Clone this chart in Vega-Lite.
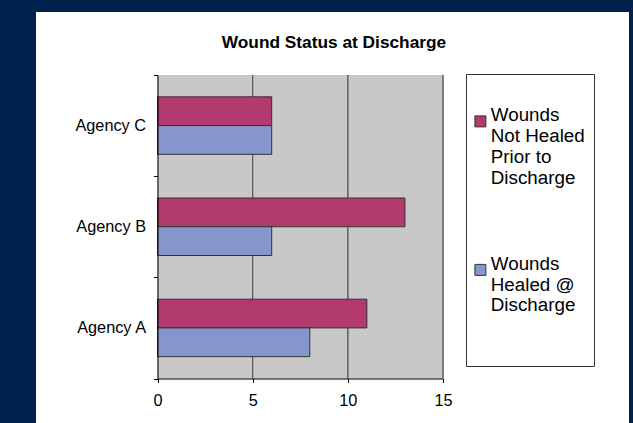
{
  "$schema": "https://vega.github.io/schema/vega-lite/v6.json",
  "width": 593,
  "height": 411,
  "autosize": {"type": "none"},
  "padding": {"left": 36, "top": 12, "right": 4, "bottom": 0},
  "background": "#01214f",
  "config": {
    "view": {"fill": "#ffffff", "stroke": null},
    "font": "Liberation Sans"
  },
  "title": {
    "text": "Wound Status at Discharge",
    "anchor": "middle",
    "frame": "group",
    "font": "Liberation Sans",
    "fontSize": 17.3,
    "fontWeight": "bold",
    "color": "#000000",
    "baseline": "alphabetic",
    "offset": -34.7,
    "dy": 27,
    "dx": 1.5
  },
  "data": {
    "values": [
      {"agency": "Agency A", "status": "Wounds Not Healed Prior to Discharge", "value": 11},
      {"agency": "Agency A", "status": "Wounds Healed @ Discharge", "value": 8},
      {"agency": "Agency B", "status": "Wounds Not Healed Prior to Discharge", "value": 13},
      {"agency": "Agency B", "status": "Wounds Healed @ Discharge", "value": 6},
      {"agency": "Agency C", "status": "Wounds Not Healed Prior to Discharge", "value": 6},
      {"agency": "Agency C", "status": "Wounds Healed @ Discharge", "value": 6}
    ]
  },
  "encoding": {
    "y": {
      "field": "agency",
      "type": "nominal",
      "sort": ["Agency C", "Agency B", "Agency A"],
      "scale": {"range": [63, 366.5], "paddingInner": 0, "paddingOuter": 0},
      "axis": {
        "title": null,
        "orient": "left",
        "offset": -121.5,
        "domainColor": "#000000",
        "domainWidth": 1,
        "tickColor": "#000000",
        "tickSize": 4,
        "tickBand": "extent",
        "labelFont": "Liberation Sans",
        "labelFontSize": 16.3,
        "labelColor": "#000000",
        "labelPadding": 8,
        "grid": false,
        "zindex": 1
      }
    }
  },
  "layer": [
    {
      "mark": {"type": "rect", "color": "#c8c8c8"},
      "encoding": {
        "x": {"datum": 0, "type": "quantitative", "scale": {"domain": [0, 15], "range": [121.5, 407], "nice": false}, "axis": {"title": null, "values": [0, 5, 10, 15], "offset": -44.5, "grid": false, "domainColor": "#000000", "tickColor": "#000000", "tickSize": 4, "labelFont": "Liberation Sans", "labelFontSize": 16.3, "labelColor": "#000000", "labelPadding": 10, "labelFlush": false, "zindex": 1}},
        "x2": {"datum": 15}
      }
    },
    {
      "mark": {"type": "tick", "color": "#5a5a5a", "thickness": 1, "size": 101.2, "opacity": 1},
      "encoding": {"x": {"datum": 5, "type": "quantitative"}}
    },
    {
      "mark": {"type": "tick", "color": "#5a5a5a", "thickness": 1, "size": 101.2, "opacity": 1},
      "encoding": {"x": {"datum": 10, "type": "quantitative"}}
    },
    {
      "mark": {"type": "tick", "color": "#5a5a5a", "thickness": 1, "size": 101.2, "opacity": 1},
      "encoding": {"x": {"datum": 15, "type": "quantitative"}}
    },
    {
      "mark": {"type": "bar", "stroke": "#333333", "strokeWidth": 1},
      "encoding": {
        "x": {"field": "value", "type": "quantitative", "scale": {"domain": [0, 15], "range": [121.5, 407], "nice": false}, "axis": {"title": null, "values": [0, 5, 10, 15], "offset": -44.5, "grid": false, "domainColor": "#000000", "tickColor": "#000000", "tickSize": 4, "labelFont": "Liberation Sans", "labelFontSize": 16.3, "labelColor": "#000000", "labelPadding": 10, "labelFlush": false, "zindex": 1}},
        "yOffset": {
          "field": "status",
          "type": "nominal",
          "scale": {"domain": ["Wounds Not Healed Prior to Discharge", "Wounds Healed @ Discharge"], "paddingInner": 0, "paddingOuter": 0.76}
        },
        "color": {
          "field": "status",
          "type": "nominal",
          "scale": {"domain": ["Wounds Not Healed Prior to Discharge", "Wounds Healed @ Discharge"], "range": ["#b33a6e", "#8596cc"]},
          "legend": {
            "orient": "none",
            "legendX": 430,
            "legendY": 62,
            "title": " ",
            "titleFontSize": 2,
            "titlePadding": 27,
            "padding": 9,
            "strokeColor": "#333333",
            "fillColor": "#ffffff",
            "symbolType": "square",
            "symbolSize": 121,
            "symbolStrokeColor": "#333333",
            "symbolStrokeWidth": 1,
            "symbolOffset": -4,
            "labelFont": "Liberation Sans",
            "labelFontSize": 18.8,
            "labelColor": "#000000",
            "labelBaseline": "alphabetic",
            "labelOffset": 1,
            "labelLimit": 0,
            "rowPadding": 66.5,
            "labelExpr": "datum.value == 'Wounds Not Healed Prior to Discharge' ? ['Wounds', 'Not Healed', 'Prior to', 'Discharge'] : ['Wounds', 'Healed @', 'Discharge', '', '']",
            "encoding": {
              "labels": {"update": {"dy": {"value": 7}, "lineHeight": {"value": 19.7}}}
            }
          }
        }
      }
    }
  ]
}
